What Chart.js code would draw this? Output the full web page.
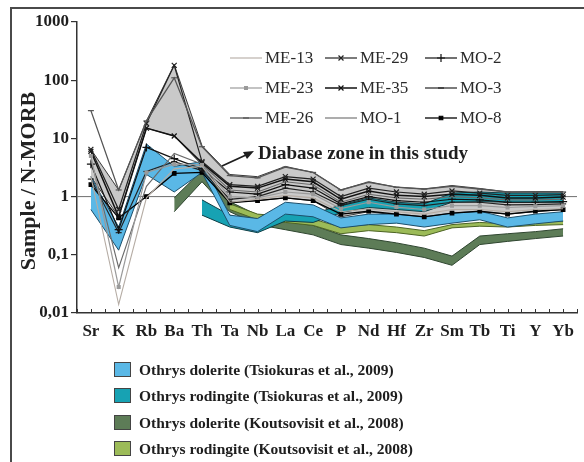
<!DOCTYPE html>
<html><head><meta charset="utf-8">
<script src="https://cdn.jsdelivr.net/npm/chart.js@4/dist/chart.umd.min.js"></script>
<style>html,body{margin:0;padding:0;background:#fff;}#wrap{position:relative;width:584px;height:462px;}canvas{display:block;}</style>
</head><body><div id="wrap"><canvas id="c" width="584" height="462"></canvas></div>
<script>
// ---- data ----
const categories = ['Sr','K','Rb','Ba','Th','Ta','Nb','La','Ce','P','Nd','Hf','Zr','Sm','Tb','Ti','Y','Yb'];
const yTickValues = [0.01, 0.1, 1, 10, 100, 1000];
const yTickLabels = ['0,01', '0,1', '1', '10', '100', '1000'];

const sampleNames = ['ME-13','ME-23','ME-26','ME-29','ME-35','MO-1','MO-2','MO-3','MO-8'];
const me13 = [2.2,0.014,0.95,3.0,3.3,0.8,0.9,1.05,0.95,0.55,0.62,0.55,0.5,0.6,0.6,0.55,0.6,0.62];
const me23 = [5.0,0.028,2.6,3.6,3.5,1.0,0.95,1.2,1.1,0.62,0.8,0.66,0.6,0.7,0.7,0.65,0.68,0.7];
const me26 = [30,1.3,20,110,7.2,2.3,2.1,3.2,2.6,1.3,1.75,1.45,1.35,1.5,1.35,1.2,1.2,1.2];
const me29 = [6.5,0.6,18,180,4.0,1.6,1.5,2.2,2.0,1.0,1.4,1.2,1.1,1.25,1.15,1.05,1.05,1.08];
const me35 = [6.0,0.45,15,11,3.8,1.5,1.4,2.0,1.8,0.9,1.25,1.05,1.0,1.1,1.05,0.95,0.95,0.98];
const mo1  = [4.4,0.06,1.5,5.5,3.6,1.3,1.2,1.8,1.6,0.8,1.1,0.95,0.9,1.0,0.95,0.88,0.88,0.9];
const mo2  = [3.6,0.27,7,4.5,3.0,1.2,1.1,1.6,1.4,0.75,1.0,0.85,0.8,0.9,0.88,0.8,0.8,0.82];
const mo3  = [2.0,0.24,2.7,4.0,2.8,0.9,1.0,1.4,1.2,0.7,0.9,0.75,0.7,0.8,0.8,0.72,0.73,0.75];
const mo8  = [1.6,0.43,1.0,2.5,2.6,0.78,0.85,0.95,0.85,0.5,0.56,0.5,0.45,0.52,0.56,0.5,0.56,0.6];

// fields (lower / upper bounds)
const diabaseLower = [2.2,0.45,15,11,3.5,0.8,0.85,0.95,0.85,0.45,0.55,0.48,0.42,0.5,0.55,0.5,0.55,0.6];
const diabaseUpper = [6.5,1.3,20,185,7.5,2.4,2.2,3.3,2.6,1.3,1.8,1.45,1.35,1.55,1.38,1.2,1.22,1.22];
const tsioDoleriteLower = [0.6,0.12,2.4,1.2,2.6,0.32,0.25,0.5,0.45,0.29,0.33,0.35,0.3,0.35,0.4,0.3,0.34,0.38];
const tsioDoleriteUpper = [2.2,0.3,8,3.3,4,0.48,0.42,0.8,0.72,0.43,0.5,0.5,0.45,0.52,0.56,0.43,0.5,0.55];
const tsioRodingiteLower = [null,null,null,null,0.48,0.3,0.24,0.38,0.36,0.53,0.65,0.6,0.55,0.8,0.82,0.8,0.8,0.8];
const tsioRodingiteUpper = [null,null,null,null,0.88,0.48,0.34,0.55,0.5,0.72,0.95,0.8,0.75,1.15,1.2,1.15,1.15,1.15];
const koutDoleriteLower = [null,null,null,0.55,1.8,0.55,0.33,0.27,0.22,0.15,0.13,0.11,0.09,0.066,0.15,0.17,0.19,0.21];
const koutDoleriteUpper = [null,null,null,0.95,2.8,0.82,0.48,0.37,0.32,0.22,0.19,0.16,0.13,0.095,0.21,0.23,0.25,0.28];
const koutRodingiteLower = [null,null,null,null,null,0.6,0.4,0.36,0.32,0.23,0.26,0.24,0.21,0.29,0.31,0.3,0.32,0.33];
const koutRodingiteUpper = [null,null,null,null,null,0.75,0.5,0.46,0.41,0.3,0.33,0.3,0.26,0.33,0.36,0.34,0.37,0.38];

const fieldNames = ['Othrys dolerite (Tsiokuras et al., 2009)','Othrys rodingite (Tsiokuras et al., 2009)','Othrys dolerite (Koutsovisit et al., 2008)','Othrys rodingite (Koutsovisit et al., 2008)'];
const annotationText = 'Diabase zone in this study';
const yTitle = 'Sample / N-MORB';

// ---- styles ----
const sampleSeries = [me13, me23, me26, me29, me35, mo1, mo2, mo3, mo8];
const sampleStyles = [
  {c:'#b5aca4', w:1.1, ps:false, r:0},
  {c:'#9a9a9a', w:1.2, ps:'rect', r:2},
  {c:'#555555', w:1.3, ps:'line', r:3},
  {c:'#222222', w:1.2, ps:'crossRot', r:3.5},
  {c:'#111111', w:1.5, ps:'crossRot', r:3.5},
  {c:'#6a6a6a', w:1.1, ps:false, r:0},
  {c:'#111111', w:1.2, ps:'cross', r:4},
  {c:'#222222', w:1.2, ps:'line', r:3},
  {c:'#000000', w:1.3, ps:'rect', r:2.5}
];
const fieldColors = ['#5ab8e6','#17a2b3','#5d7c57','#9cbb58'];
const grayFill = '#c9c9c9';

const toXY = arr => arr.map((v,i) => ({x:i, y:v}));

const datasets = [];
sampleSeries.forEach((s,i) => {
  const st = sampleStyles[i];
  datasets.push({label:sampleNames[i], data:toXY(s), borderColor:st.c, borderWidth:st.w,
    pointStyle:st.ps, pointRadius:st.r, pointBorderColor:st.c, pointBackgroundColor:st.c,
    pointBorderWidth:1.2, fill:false, tension:0});
});
function band(lower, upper, color, edge, name){
  datasets.push({label:name+' low', data:toXY(lower), borderColor:edge, borderWidth:1, pointRadius:0, fill:false, tension:0});
  datasets.push({label:name, data:toXY(upper), borderColor:edge, borderWidth:1, pointRadius:0, fill:'-1', backgroundColor:color, tension:0});
}
band(tsioDoleriteLower, tsioDoleriteUpper, fieldColors[0], '#1d4f6b', fieldNames[0]);
band(tsioRodingiteLower, tsioRodingiteUpper, fieldColors[1], '#103d44', fieldNames[1]);
band(koutRodingiteLower, koutRodingiteUpper, fieldColors[3], '#4d6424', fieldNames[3]);
band(koutDoleriteLower, koutDoleriteUpper, fieldColors[2], '#2f4630', fieldNames[2]);
band(diabaseLower, diabaseUpper, grayFill, '#3a3a3a', 'Diabase zone');

const SERIF = '"Liberation Serif", "DejaVu Serif", serif';

const decor = {
  id:'decor',
  beforeDraw(chart){
    const ctx = chart.ctx;
    ctx.save();
    ctx.fillStyle = '#fff';
    ctx.fillRect(0,0,chart.width,chart.height);
    ctx.restore();
  },
  beforeDatasetsDraw(chart){
    const ctx = chart.ctx, ya = chart.scales.y, ca = chart.chartArea;
    const y1 = ya.getPixelForValue(1);
    ctx.save();
    ctx.strokeStyle = '#6f6f6f'; ctx.lineWidth = 1;
    ctx.beginPath(); ctx.moveTo(ca.left, y1); ctx.lineTo(ca.right, y1); ctx.stroke();
    ctx.restore();
  },
  afterDraw(chart){
    const ctx = chart.ctx, xa = chart.scales.x, ya = chart.scales.y, ca = chart.chartArea;
    ctx.save();
    // outer frame
    ctx.strokeStyle = '#4a4a4a'; ctx.lineWidth = 2;
    ctx.beginPath(); ctx.moveTo(11, 470); ctx.lineTo(11, 8); ctx.lineTo(590, 8); ctx.stroke();
    // x minor ticks (inward)
    ctx.strokeStyle = '#333'; ctx.lineWidth = 1;
    for (let v = -0.5; v <= categories.length - 0.5 + 1e-9; v += 0.5) {
      const px = Math.round(xa.getPixelForValue(v)) + 0.5;
      ctx.beginPath(); ctx.moveTo(px, ca.bottom); ctx.lineTo(px, ca.bottom - 4); ctx.stroke();
    }
    // y title
    ctx.save();
    ctx.translate(29, 181); ctx.rotate(-Math.PI/2);
    ctx.font = 'bold 22px ' + SERIF; ctx.fillStyle = '#222';
    ctx.textAlign = 'center'; ctx.textBaseline = 'middle';
    ctx.fillText(yTitle, 0, 0);
    ctx.restore();
    // sample legend (3 x 3)
    const colX = [230, 325, 425], rowY = [58, 88, 118];
    ctx.font = '17px ' + SERIF; ctx.textBaseline = 'middle'; ctx.textAlign = 'left';
    const order = [['ME-13','ME-29','MO-2'],['ME-23','ME-35','MO-3'],['ME-26','MO-1','MO-8']];
    order.forEach((row, r) => row.forEach((name, c) => {
      const i = sampleNames.indexOf(name), st = sampleStyles[i];
      const x0 = colX[c], y0 = rowY[r];
      ctx.strokeStyle = st.c; ctx.lineWidth = st.w;
      ctx.beginPath(); ctx.moveTo(x0, y0); ctx.lineTo(x0 + 32, y0); ctx.stroke();
      if (st.ps) {
        ctx.fillStyle = st.c; ctx.strokeStyle = st.c; ctx.lineWidth = 1.2;
        Chart.helpers.drawPoint(ctx, {pointStyle: st.ps, radius: st.r, rotation: 0, borderWidth: 1.2}, x0 + 16, y0);
      }
      ctx.fillStyle = '#2a2a2a';
      ctx.fillText(name, x0 + 35, y0 + 1);
    }));
    // annotation + arrow
    ctx.font = 'bold 19px ' + SERIF; ctx.fillStyle = '#1e1e1e';
    ctx.fillText(annotationText, 258, 154);
    ctx.strokeStyle = '#1e1e1e'; ctx.lineWidth = 1.8;
    ctx.beginPath(); ctx.moveTo(222, 166); ctx.lineTo(246, 155); ctx.stroke();
    ctx.beginPath(); ctx.moveTo(254, 151); ctx.lineTo(243, 152); ctx.lineTo(247, 159); ctx.closePath();
    ctx.fillStyle = '#1e1e1e'; ctx.fill();
    // field legend
    const fy = [370, 396, 423, 449];
    ctx.font = 'bold 15.5px ' + SERIF;
    fieldNames.forEach((n, i) => {
      ctx.fillStyle = fieldColors[i];
      ctx.fillRect(114, fy[i] - 8, 17, 15);
      ctx.strokeStyle = '#444'; ctx.lineWidth = 1;
      ctx.strokeRect(114.5, fy[i] - 7.5, 16, 14);
      ctx.fillStyle = '#1e1e1e';
      ctx.fillText(n, 139, fy[i] + 1);
    });
    ctx.restore();
  }
};

new Chart(document.getElementById('c'), {
  type: 'line',
  data: { datasets },
  options: {
    responsive: false, animation: false, events: [],
    layout: { padding: { top: 22, right: 7, left: 0, bottom: 0 } },
    plugins: { legend: { display: false }, tooltip: { enabled: false } },
    scales: {
      x: {
        type: 'linear', min: -0.5, max: categories.length - 0.5,
        afterFit: s => { s.height = 149; },
        grid: { display: false },
        border: { display: true, color: '#333', width: 1.5 },
        ticks: { stepSize: 0.5, autoSkip: false, maxRotation: 0, minRotation: 0, padding: 0,
          color: '#1e1e1e', font: { family: SERIF, size: 17, weight: 'bold' },
          callback: v => Number.isInteger(v) ? categories[v] : '' }
      },
      y: {
        type: 'logarithmic', min: 0.01, max: 1000,
        afterFit: s => { s.width = 77; },
        afterBuildTicks: s => { s.ticks = yTickValues.map(v => ({ value: v })); },
        grid: { display: true, drawOnChartArea: false, drawTicks: true, tickLength: 6, color: '#333', lineWidth: 1.2 },
        border: { display: true, color: '#333', width: 1.5 },
        ticks: { padding: 2, color: '#1e1e1e', font: { family: SERIF, size: 17, weight: 'bold' },
          callback: (v) => { const k = yTickValues.indexOf(v); return k >= 0 ? yTickLabels[k] : ''; } }
      }
    }
  },
  plugins: [decor]
});
</script></body></html>
